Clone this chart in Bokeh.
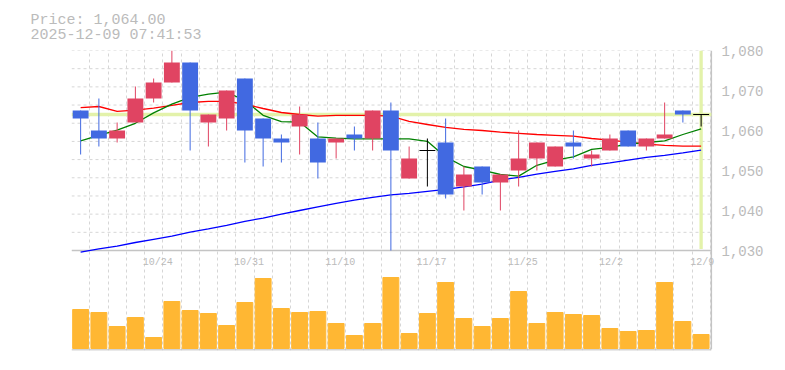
from bokeh.plotting import figure
from bokeh.models import Range1d, LinearAxis, FixedTicker, NumeralTickFormatter, Grid, Title
from bokeh.embed import file_html
from bokeh.resources import INLINE
from bokeh.core.properties import value

# ---------------- data ----------------
dates = ["10/20", "10/21", "10/22", "10/23", "10/24", "10/27", "10/28", "10/29", "10/30", "10/31",
         "11/4", "11/5", "11/6", "11/7", "11/10", "11/11", "11/12", "11/13", "11/14", "11/17",
         "11/18", "11/19", "11/20", "11/21", "11/25", "11/26", "11/27", "11/28", "12/1", "12/2",
         "12/3", "12/4", "12/5", "12/8", "12/9"]
opens = [1065, 1060, 1058, 1062, 1068, 1072, 1077, 1062, 1063, 1073,
         1063, 1058, 1061, 1058, 1057, 1059, 1058, 1065, 1048, 1055,
         1057, 1046, 1051, 1047, 1050, 1053, 1051, 1057, 1053, 1055,
         1060, 1056, 1058, 1065, 1064]
highs = [1065, 1068, 1062, 1071, 1073, 1080, 1077, 1064, 1070, 1073,
         1063, 1059, 1066, 1062, 1058, 1061, 1065, 1067, 1056, 1058,
         1063, 1051, 1051, 1049, 1060, 1057, 1056, 1060, 1055, 1059,
         1060, 1058, 1067, 1065, 1064]
lows = [1054, 1056, 1057, 1062, 1067, 1072, 1055, 1056, 1060, 1052,
        1051, 1052, 1054, 1048, 1053, 1055, 1055, 1030, 1048, 1046,
        1043, 1040, 1044, 1040, 1046, 1050, 1051, 1053, 1051, 1055,
        1056, 1055, 1058, 1062, 1061]
closes = [1063, 1058, 1060, 1068, 1072, 1077, 1065, 1064, 1070, 1060,
          1058, 1057, 1064, 1052, 1058, 1058, 1065, 1055, 1053, 1055,
          1044, 1049, 1047, 1049, 1053, 1057, 1056, 1056, 1054, 1058,
          1056, 1058, 1059, 1064, 1064]
volumes = [78, 72, 44, 62, 22, 94, 76, 70, 46, 92,
           140, 80, 72, 74, 50, 26, 50, 142, 30, 70,
           132, 60, 44, 60, 114, 50, 72, 68, 66, 40,
           34, 36, 132, 54, 28]
ma_short = [1057.4, 1058.8, 1060.1, 1061.8, 1064.4, 1066.6, 1068.3, 1069.1, 1069.6, 1067.5,
            1063.8, 1062.2, 1062.1, 1058.4, 1058.1, 1057.9, 1057.9, 1057.9, 1057.9, 1057.3,
            1053.4, 1051.0, 1050.1, 1049.0, 1048.6, 1051.3, 1052.6, 1053.4, 1055.3, 1055.8,
            1056.6, 1057.0, 1057.4, 1059.0, 1060.4]
ma_mid = [1065.7, 1066.0, 1064.8, 1065.1, 1065.6, 1066.3, 1067.0, 1067.3, 1067.3, 1066.6,
          1065.5, 1064.5, 1064.0, 1063.6, 1063.8, 1063.8, 1063.8, 1063.6, 1062.3, 1061.5,
          1060.8, 1060.3, 1060.0, 1059.6, 1059.3, 1059.0, 1058.8, 1058.6, 1058.0, 1057.6,
          1057.1, 1056.6, 1056.3, 1056.1, 1056.1]
ma_long = [1029.6, 1030.4, 1031.1, 1032.0, 1032.8, 1033.6, 1034.6, 1035.4, 1036.3, 1037.3,
           1038.1, 1039.1, 1040.0, 1040.9, 1041.8, 1042.6, 1043.3, 1043.9, 1044.3, 1044.8,
           1045.3, 1045.9, 1046.6, 1047.6, 1048.3, 1049.1, 1049.8, 1050.4, 1051.3, 1051.9,
           1052.6, 1053.3, 1053.8, 1054.4, 1055.1]
date_labels = ["10/24", "10/31", "11/10", "11/17", "11/25", "12/2", "12/9"]
price_ticks = [1030, 1040, 1050, 1060, 1070, 1080]
title_price = "Price: 1,064.00"
title_time = "2025-12-09 07:41:53"

# ---------------- styling ----------------
UP = "#e04462"
DOWN = "#4169e1"
VOL = "#ffb733"
HL = "#e3f2aa"
TXT = "#bbbbbb"
GRID = "#d6d6d6"
BORDER = "#c4c4c4"
MONO = "Liberation Mono"

n = len(dates)
xs = list(range(n))
x_edge = 34.56          # right border of the chart area
px_per_slot = 18.25
frame_w = 650
x_end = -0.5 + frame_w / px_per_slot

p = figure(frame_width=frame_w, frame_height=300,
           x_range=Range1d(-0.5, x_end), y_range=Range1d(1005, 1080),
           x_axis_type=None, y_axis_type=None, title_location=None,
           toolbar_location=None, output_backend="svg",
           min_border_left=71, min_border_right=52, min_border_top=50, min_border_bottom=8,
           outline_line_color=None)
p.extra_y_ranges = {"vol": Range1d(-4, 596)}

# vertical grid
p.add_layout(Grid(dimension=0, ticker=FixedTicker(ticks=[i - 0.5 for i in range(n + 1)]),
                  grid_line_color=GRID, grid_line_dash="3 3", grid_line_width=1))
# horizontal grid (price pane only)
gy = [1030 + k * 50 / 11 for k in range(1, 12)]
p.segment(x0=[-0.5] * len(gy), y0=gy, x1=[x_edge] * len(gy), y1=gy,
          line_color=GRID, line_dash="3 3", line_width=1)

# right axis
yaxis = LinearAxis(ticker=FixedTicker(ticks=price_ticks),
                   formatter=NumeralTickFormatter(format="0,0"),
                   axis_line_color=None, major_tick_line_color=None, minor_tick_line_color=None,
                   major_tick_in=0, major_tick_out=0, major_label_standoff=0,
                   major_label_text_font=MONO, major_label_text_font_size="14px",
                   major_label_text_color=TXT)
p.add_layout(yaxis, "right")

# borders
p.segment(x0=[x_edge], y0=[1005.3], x1=[x_edge], y1=[1080], line_color=BORDER, line_width=1.5)
p.segment(x0=[-0.5], y0=[1030], x1=[x_edge], y1=[1030], line_color=BORDER, line_width=1.5)
p.segment(x0=[-0.5], y0=[-3], x1=[x_edge], y1=[-3], line_color=BORDER, line_width=1.5,
          y_range_name="vol")

# current price highlight
last = closes[-1]
p.segment(x0=[-0.5], y0=[last], x1=[x_edge], y1=[last], line_color=HL, line_width=3.3)
p.segment(x0=[xs[-1]], y0=[1030.4], x1=[xs[-1]], y1=[1080], line_color=HL, line_width=3.3)

# volume
p.vbar(x=xs, top=volumes, bottom=0, width=0.87, color=VOL, y_range_name="vol")

# moving averages
p.line(xs, ma_mid, line_color="#ff0000", line_width=1.3)
p.line(xs, ma_short, line_color="#008000", line_width=1.3)
p.line(xs, ma_long, line_color="#0000ff", line_width=1.3)

# candles
colors = [UP if c > o else (DOWN if c < o else "black") for o, c in zip(opens, closes)]
body_x = [x for x, o, c in zip(xs, opens, closes) if o != c]
body_top = [max(o, c) for o, c in zip(opens, closes) if o != c]
body_bot = [min(o, c) for o, c in zip(opens, closes) if o != c]
body_col = [col for col, o, c in zip(colors, opens, closes) if o != c]
p.segment(x0=xs, y0=highs, x1=xs, y1=lows, line_color=colors, line_width=1)
p.vbar(x=body_x, top=body_top, bottom=body_bot, width=0.87, fill_color=body_col, line_color=None)
doji_x = [x for x, o, c in zip(xs, opens, closes) if o == c]
doji_y = [c for o, c in zip(opens, closes) if o == c]
p.segment(x0=[x - 0.435 for x in doji_x], y0=doji_y, x1=[x + 0.435 for x in doji_x], y1=doji_y,
          line_color="black", line_width=1.2)

# date labels
lab_x = [dates.index(d) for d in date_labels]
p.text(x=lab_x, y=[1026.9] * len(lab_x), text=date_labels, text_align="left", text_baseline="middle",
       x_offset=-11, text_font=value(MONO), text_font_size="10px", text_color=TXT)

# header (two lines in one title)
p.add_layout(Title(text=title_price + "\n" + title_time, align="left", offset=-41, standoff=13,
                   vertical_align="bottom", text_line_height=0.88,
                   text_font=MONO, text_font_size="15px", text_font_style="normal",
                   text_color=TXT), "above")

open("out.html", "w").write(file_html(p, INLINE))
